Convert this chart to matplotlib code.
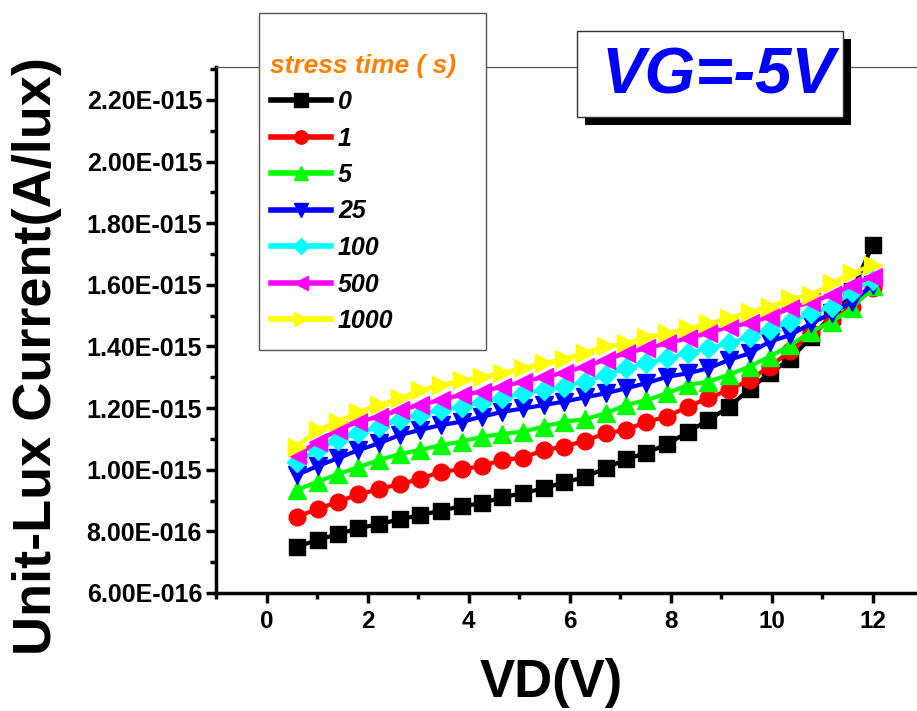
import numpy as np
import matplotlib
matplotlib.use("Agg")
import matplotlib.pyplot as plt
from matplotlib.patches import Rectangle
from matplotlib.ticker import MultipleLocator, FixedLocator

plt.rcParams['font.family'] = ['Liberation Sans', 'DejaVu Sans']

# drain voltage (V)
vd = [0.6, 1.01, 1.41, 1.82, 2.23, 2.64, 3.04, 3.45, 3.86, 4.26, 4.67, 5.08,
      5.49, 5.89, 6.3, 6.71, 7.11, 7.52, 7.93, 8.34, 8.74, 9.15, 9.56, 9.96,
      10.37, 10.78, 11.19, 11.59, 12.0]

# unit-lux current, in 1e-15 A/lux, one list per stress time
i_0 = [0.750, 0.772, 0.791, 0.810, 0.824, 0.839, 0.853, 0.867, 0.882, 0.891,
       0.911, 0.924, 0.940, 0.959, 0.976, 1.005, 1.034, 1.055, 1.083, 1.122,
       1.161, 1.203, 1.262, 1.313, 1.36, 1.43, 1.50, 1.58, 1.730]
i_1 = [0.848, 0.872, 0.896, 0.920, 0.937, 0.954, 0.970, 0.994, 1.001, 1.012,
       1.032, 1.039, 1.064, 1.075, 1.094, 1.118, 1.129, 1.156, 1.172, 1.205,
       1.232, 1.259, 1.291, 1.335, 1.385, 1.443, 1.486, 1.529, 1.589]
i_5 = [0.934, 0.961, 0.986, 1.008, 1.032, 1.051, 1.064, 1.080, 1.091, 1.107,
       1.116, 1.124, 1.140, 1.156, 1.164, 1.183, 1.210, 1.226, 1.248, 1.275,
       1.286, 1.308, 1.335, 1.367, 1.405, 1.448, 1.481, 1.524, 1.595]
i_25 = [0.983, 1.012, 1.037, 1.064, 1.086, 1.113, 1.129, 1.145, 1.156, 1.172,
        1.188, 1.199, 1.210, 1.221, 1.235, 1.248, 1.264, 1.281, 1.302, 1.313,
        1.329, 1.356, 1.378, 1.416, 1.437, 1.475, 1.508, 1.545, 1.600]
i_100 = [1.026, 1.064, 1.097, 1.118, 1.140, 1.162, 1.178, 1.194, 1.205, 1.221,
         1.232, 1.248, 1.259, 1.270, 1.286, 1.308, 1.329, 1.346, 1.362, 1.378,
         1.394, 1.410, 1.432, 1.454, 1.481, 1.508, 1.529, 1.578, 1.616]
i_500 = [1.048, 1.091, 1.129, 1.156, 1.172, 1.194, 1.210, 1.226, 1.243, 1.253,
         1.270, 1.286, 1.300, 1.315, 1.335, 1.356, 1.378, 1.394, 1.410, 1.427,
         1.443, 1.464, 1.475, 1.497, 1.524, 1.545, 1.567, 1.600, 1.627]
i_1000 = [1.075, 1.129, 1.156, 1.188, 1.210, 1.232, 1.259, 1.275, 1.290, 1.300,
          1.315, 1.330, 1.345, 1.360, 1.380, 1.400, 1.410, 1.432, 1.443, 1.459,
          1.475, 1.492, 1.513, 1.529, 1.556, 1.567, 1.605, 1.638, 1.665]

labels = ['0', '1', '5', '25', '100', '500', '1000']
ytick_vals = [0.6, 0.8, 1.0, 1.2, 1.4, 1.6, 1.8, 2.0, 2.2]
ytick_labels = ['6.00E-016', '8.00E-016', '1.00E-015', '1.20E-015', '1.40E-015',
                '1.60E-015', '1.80E-015', '2.00E-015', '2.20E-015']
xtick_vals = [0, 2, 4, 6, 8, 10, 12]

series = [i_0, i_1, i_5, i_25, i_100, i_500, i_1000]
colors = ['#000000', '#FF0000', '#00FF00', '#0000FF', '#00FFFF', '#FF00FF', '#FFFF00']
markers = ['s', 'o', '^', 'v', 'D', '<', '>']
msizes = [12, 12, 13, 13, 10, 13, 13]

W, H = 917, 711
fig = plt.figure(figsize=(W / 100, H / 100), dpi=100)
# axes box in pixels: left 216, right ~923 (cut off), top 67, bottom 593
ax = fig.add_axes([216 / W, (H - 593) / H, (923.3 - 216) / W, (593 - 67) / H])

handles = []
for ys, c, m, ms, lab in zip(series, colors, markers, msizes, labels):
    h, = ax.plot(vd, np.array(ys) * 1e-15, color=c, marker=m, markersize=ms,
                 markeredgecolor=c, lw=3, label=lab, clip_on=False)
    handles.append(h)

ax.set_xlim(-1, 13)
ax.set_ylim(0.6e-15, 2.307e-15)
ax.xaxis.set_major_locator(FixedLocator(xtick_vals))
ax.xaxis.set_minor_locator(MultipleLocator(1))
ax.yaxis.set_major_locator(FixedLocator([v * 1e-15 for v in ytick_vals]))
ax.yaxis.set_minor_locator(MultipleLocator(0.1e-15))
ax.set_yticklabels(ytick_labels)
ax.set_xticklabels([str(v) for v in xtick_vals])

ax.tick_params(which='major', direction='out', length=7, width=2.5,
               labelsize=18, pad=3)
ax.tick_params(which='minor', direction='out', length=4, width=2.5)
ax.tick_params(axis='x', which='major', pad=5, labelsize=17.5)
ax.tick_params(top=False, right=False, which='both')
for lab in ax.get_xticklabels() + ax.get_yticklabels():
    lab.set_fontweight('bold')

ax.spines['left'].set_linewidth(2.5)
ax.spines['bottom'].set_linewidth(2.5)
ax.spines['top'].set_linewidth(0.9)
ax.spines['top'].set_color('#555555')
ax.spines['right'].set_visible(False)

fig.text(37 / W, 1 - 356 / H, 'Unit-Lux Current(A/lux)', rotation=90,
         ha='center', va='center', fontsize=39, fontweight='bold')
fig.text(551 / W, 1 - 683 / H, 'VD(V)', ha='center', va='center',
         fontsize=38, fontweight='bold')

# legend box drawn separately so its size matches
fig.patches.append(Rectangle((259 / W, 1 - 350 / H), (486 - 259) / W, (350 - 13) / H,
                             transform=fig.transFigure, facecolor='white',
                             edgecolor='#555555', lw=1, zorder=2))
leg = fig.legend(handles=handles, loc='upper left',
                 bbox_to_anchor=(258 / W, 1 - 41 / H), frameon=False,
                 title='stress time ( s)', fontsize=18, borderpad=0,
                 handlelength=2.4, handletextpad=0.3, labelspacing=0.5,
                 markerscale=0.8)
leg.set_zorder(5)
leg._legend_box.align = 'left'
leg.get_title().set_color('#FF8000')
leg.get_title().set_fontsize(19)
leg.get_title().set_fontweight('bold')
leg.get_title().set_fontstyle('italic')
for t in leg.get_texts():
    t.set_fontweight('bold')
    t.set_fontstyle('italic')
for lh in leg.legend_handles:
    lh.set_linewidth(4)

# VG label box with drop shadow
fig.patches.append(Rectangle((585 / W, 1 - 125 / H), (843 - 577) / W, (117 - 31) / H,
                             transform=fig.transFigure, facecolor='black',
                             edgecolor='black', lw=0, zorder=2))
fig.patches.append(Rectangle((577 / W, 1 - 117 / H), (843 - 577) / W, (117 - 31) / H,
                             transform=fig.transFigure, facecolor='white',
                             edgecolor='#333333', lw=1, zorder=3))
fig.text(718 / W, 1 - 94 / H, 'VG=-5V', ha='center', va='baseline',
         fontsize=47, fontweight='bold', fontstyle='italic', color='#0000FF',
         zorder=4)

fig.savefig('out.png', dpi=100)
